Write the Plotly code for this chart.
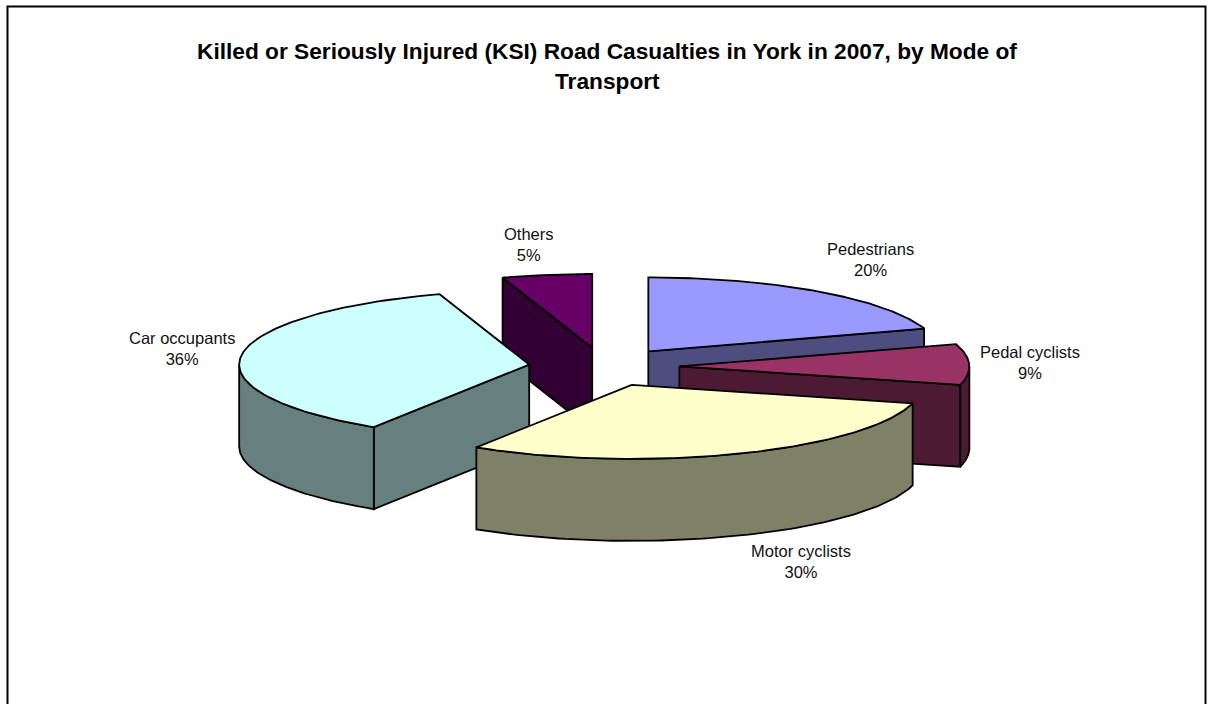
import numpy as np
import plotly.graph_objects as go

# Casualty shares by mode of transport (percent), clockwise from 12 o'clock
categories = ["Pedestrians", "Pedal cyclists", "Motor cyclists", "Car occupants", "Others"]
values = [20, 9, 30, 36, 5]
top_colors = ["#9999FF", "#993366", "#FFFFCC", "#CCFFFF", "#660066"]
side_colors = ["#4D4D80", "#4D1A33", "#808066", "#668080", "#330033"]
title_lines = [
    "Killed or Seriously Injured (KSI) Road Casualties in York in 2007, by Mode of",
    "Transport",
]

# Pie geometry in canvas pixels
W, H = 1213, 704
CX, CY = 604, 367      # centre of the un-exploded pie top
RX, RY = 290, 74       # ellipse radii of the tilted top
DEPTH = 82             # slab thickness
EXPLODE = 0.26         # explosion as a fraction of the radius

fig = go.Figure()


def rim(cx, cy, ang_deg, dz=0.0):
    a = np.radians(ang_deg)
    return cx + RX * np.sin(a), cy - RY * np.cos(a) + dz


def add_poly(xs, ys, fill):
    fig.add_trace(go.Scatter(
        x=list(xs) + [xs[0]], y=list(ys) + [ys[0]],
        mode="lines", fill="toself", fillcolor=fill,
        line=dict(color="black", width=1.8),
        hoverinfo="skip", showlegend=False))


total = float(sum(values))
slices = []
start = 0.0
for name, v, tc, sc in zip(categories, values, top_colors, side_colors):
    span = 360.0 * v / total
    a, b = start, start + span
    mid = np.radians((a + b) / 2)
    ox = CX + EXPLODE * RX * np.sin(mid)
    oy = CY - EXPLODE * RY * np.cos(mid)
    slices.append(dict(name=name, a=a, b=b, ox=ox, oy=oy, top=tc, side=sc,
                       depth_key=-np.cos(mid)))
    start = b

# paint from the back of the pie to the front
for s in sorted(slices, key=lambda d: d["depth_key"]):
    a, b, ox, oy = s["a"], s["b"], s["ox"], s["oy"]

    # radial wall at the start angle faces the viewer for 180 < a < 360
    if 180 < a < 360:
        x1, y1 = rim(ox, oy, a)
        add_poly([ox, x1, x1, ox], [oy, y1, y1 + DEPTH, oy + DEPTH], s["side"])
    # radial wall at the end angle faces the viewer for 0 < b < 180
    if 0 < b < 180:
        x1, y1 = rim(ox, oy, b)
        add_poly([ox, x1, x1, ox], [oy, y1, y1 + DEPTH, oy + DEPTH], s["side"])
    # curved outer wall on the front half (90..270)
    lo, hi = max(a, 90.0), min(b, 270.0)
    if hi > lo:
        t = np.linspace(lo, hi, 80)
        xt, yt = rim(ox, oy, t)
        xb, yb = rim(ox, oy, t[::-1], DEPTH)
        add_poly(np.concatenate([xt, xb]), np.concatenate([yt, yb]), s["side"])
    # top face
    t = np.linspace(a, b, 120)
    xt, yt = rim(ox, oy, t)
    add_poly(np.concatenate([[ox], xt]), np.concatenate([[oy], yt]), s["top"])

# category labels with percentages
label_pos = {
    "Pedestrians": (870, 259),
    "Pedal cyclists": (1030, 362),
    "Motor cyclists": (801, 561),
    "Car occupants": (182, 348),
    "Others": (529, 244),
}
for name, v in zip(categories, values):
    x, y = label_pos[name]
    fig.add_annotation(x=x, y=y, xref="x", yref="y",
                       text=f"{name}<br>{v}%", showarrow=False,
                       font=dict(family="Liberation Sans, Arial", size=16.5, color="#111111"),
                       align="center")

# two-line bold title
for line, y in zip(title_lines, [51, 81]):
    fig.add_annotation(x=607, y=y, xref="x", yref="y", text=f"<b>{line}</b>",
                       showarrow=False,
                       font=dict(family="Liberation Sans, Arial", size=22.7, color="black"))

# chart area frame
fig.add_shape(type="rect", x0=7.5, y0=6.5, x1=1205.5, y1=730,
              xref="x", yref="y", line=dict(color="black", width=2))

fig.update_layout(
    width=W, height=H, margin=dict(l=0, r=0, t=0, b=0),
    paper_bgcolor="white", plot_bgcolor="white",
    xaxis=dict(range=[0, W], visible=False, fixedrange=True),
    yaxis=dict(range=[H, 0], visible=False, fixedrange=True),
    showlegend=False,
)
fig.write_html("out.html")
